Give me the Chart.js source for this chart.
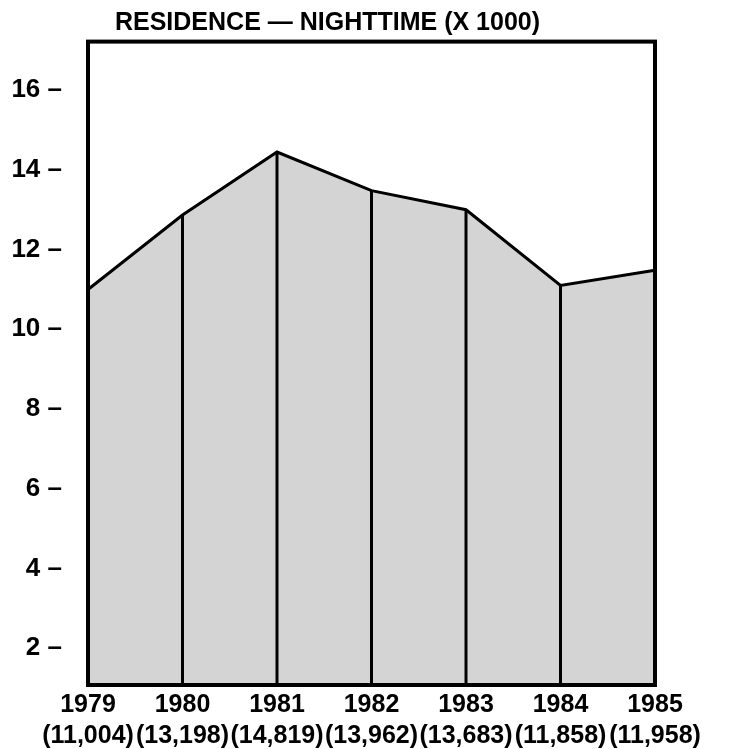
<!DOCTYPE html>
<html>
<head>
<meta charset="utf-8">
<script src="https://cdn.jsdelivr.net/npm/chart.js@4/dist/chart.umd.min.js"></script>
<style>
  html, body { margin: 0; padding: 0; background: #fff; }
  #wrap { width: 734px; height: 749px; }
</style>
</head>
<body>
<div id="wrap"><canvas id="nightChart" width="734" height="749"></canvas></div>
<script>
// values as drawn on the chart (thousands)
var years = ['1979', '1980', '1981', '1982', '1983', '1984', '1985'];
var counts = ['(11,004)', '(13,198)', '(14,819)', '(13,962)', '(13,683)', '(11,858)', '(11,958)'];
var nighttime = [11.0, 12.87, 14.45, 13.48, 13.0, 11.1, 11.48];
var yTicks = [2, 4, 6, 8, 10, 12, 14, 16];

var labels = [];
for (var i = 0; i < years.length; i++) {
    labels.push([years[i], counts[i]]);
}

// drop lines from each point to the floor, plus the heavy box
var framePlugin = {
    id: 'frame',
    afterDatasetsDraw: function (chart) {
        var ctx = chart.ctx;
        var area = chart.chartArea;
        var meta = chart.getDatasetMeta(0);
        ctx.save();
        ctx.strokeStyle = '#000';
        ctx.lineWidth = 3;
        meta.data.forEach(function (pt) {
            ctx.beginPath();
            ctx.moveTo(pt.x, pt.y);
            ctx.lineTo(pt.x, area.bottom);
            ctx.stroke();
        });
        ctx.lineWidth = 4;
        ctx.strokeRect(area.left, area.top, area.right - area.left, area.bottom - area.top);
        ctx.restore();
    }
};

var nightChart = new Chart(document.getElementById('nightChart'), {
    type: 'line',
    data: {
        labels: labels,
        datasets: [{
            data: nighttime,
            borderColor: '#000',
            borderWidth: 3,
            backgroundColor: '#d4d4d4',
            fill: 'start',
            pointRadius: 0,
            tension: 0
        }]
    },
    options: {
        responsive: false,
        animation: false,
        layout: { padding: { left: 0, right: 79, top: 0, bottom: 0 } },
        plugins: {
            legend: { display: false },
            tooltip: { enabled: false },
            title: {
                display: true,
                text: 'RESIDENCE \u2014 NIGHTTIME (X 1000)',
                color: '#000',
                font: { family: 'Liberation Sans', size: 25, weight: 'bold', lineHeight: 1.2 },
                padding: { top: 5, bottom: 3 }
            }
        },
        scales: {
            x: {
                offset: false,
                grid: { display: false, drawTicks: false },
                border: { display: false },
                ticks: {
                    color: '#000',
                    maxRotation: 0,
                    autoSkip: false,
                    padding: 4,
                    font: { family: 'Liberation Sans', size: 25, weight: 'bold', lineHeight: 1.25 }
                },
                afterFit: function (axis) { axis.height = 64; }
            },
            y: {
                min: 1.075,
                max: 17.22,
                grid: { display: false, drawTicks: false },
                border: { display: false },
                afterBuildTicks: function (axis) {
                    axis.ticks = yTicks.map(function (v) { return { value: v }; });
                },
                ticks: {
                    color: '#000',
                    padding: 26,
                    font: { family: 'Liberation Sans', size: 26, weight: 'bold' },
                    callback: function (v) { return v + ' \u2013'; }
                },
                afterFit: function (axis) { axis.width = 88; }
            }
        }
    },
    plugins: [framePlugin]
});
</script>
</body>
</html>
